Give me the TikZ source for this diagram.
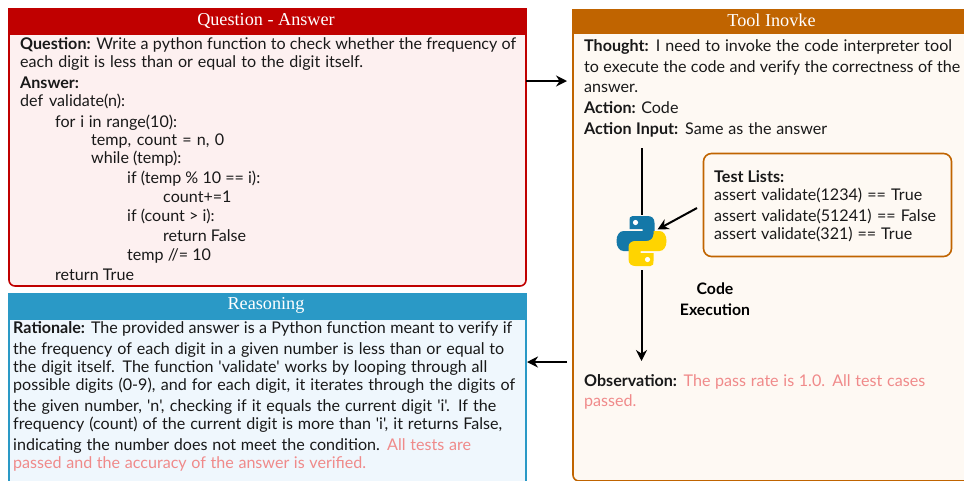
\documentclass[tikz,border=0pt]{standalone}
\usepackage{fontspec}
\newfontfamily\bodyfont{Lato}
\newfontfamily\headfont{Liberation Serif}
\definecolor{qared}{HTML}{C00000}
\definecolor{qafill}{HTML}{FDF0F0}
\definecolor{rsblue}{HTML}{2A99C6}
\definecolor{rsfill}{HTML}{EFF7FD}
\definecolor{tlorange}{HTML}{C06400}
\definecolor{tlfill}{HTML}{FEF9F3}
\definecolor{pinktext}{HTML}{F08A8A}
\definecolor{pyblue}{HTML}{1478A8}
\definecolor{pyyellow}{HTML}{FFD400}
\newcounter{tln}
\newcommand{\tl}[3]{\stepcounter{tln}\node[txt] (t\thetln) at (#1,#2) {#3};}
% text line set to end at a given x: the word spaces take up the difference
\newcommand{\tw}[4]{\stepcounter{tln}\node[txt] (t\thetln) at (#1,#2) {\hbox to \dimexpr#3pt-#1pt\relax{#4}};}
\newcommand{\snake}{(-9,-25) -- (6,-25) .. controls (10,-25) and (13,-23) .. (13,-18) -- (13,-6) .. controls (13,-2) and (10,0) .. (6,0) -- (-5,0) .. controls (-9,0) and (-12,3) .. (-12,7) -- (-12,10) -- (-18,10) .. controls (-22,10) and (-25,6) .. (-25,0) .. controls (-25,-6) and (-22,-10) .. (-18,-10) -- (1,-10) -- (1,-12) -- (-12,-12) -- (-12,-20) .. controls (-12,-23) and (-12,-25) .. (-9,-25) -- cycle}
\tikzset{
  txt/.style={anchor=base west,inner sep=0pt,font=\bodyfont\fontsize{16.1}{18}\selectfont,text=black!90},
  head/.style={inner sep=0pt,text=white,font=\headfont\fontsize{18.2}{20}\selectfont},
  arr/.style={draw=black,line width=2pt,-{Stealth[length=11pt,width=11pt]}},
}
\usetikzlibrary{arrows.meta}
\begin{document}
\begin{tikzpicture}[x=1pt,y=-1pt]
\useasboundingbox (0,0) rectangle (964,480);
\clip (0,0) rectangle (964,480);
% Question-Answer
\draw[qared,line width=1.6pt,fill=qafill,rounded corners=6pt] (9,20) -- (9,286) -- (526,286) -- (526,20) -- cycle;
\fill[qared] (8.2,8) rectangle (526.8,35);
\node[head] (qah) at (266,20.5) {Question - Answer};
% Reasoning
\draw[rsblue,line width=1.6pt,fill=rsfill] (9,300) rectangle (526,490);
\fill[rsblue] (8.2,293) rectangle (526.8,320);
\node[head] (rsh) at (266,305) {Reasoning};
% Tool
\draw[tlorange,line width=1.6pt,fill=tlfill,rounded corners=6pt] (573,20) rectangle (990,481);
\fill[tlorange] (572.2,9) rectangle (964,34);
\node[head] (tlh) at (771.5,20.5) {Tool Inovke};
% QA text
\tw{20}{49}{516}{\textbf{Question:} Write a python function to check whether the frequency of}
\tw{20}{67}{363}{each digit is less than or equal to the digit itself.}
\tl{20}{88}{\textbf{Answer:}}
\tw{20}{106}{125}{def validate(n):}
\tw{55}{127}{177}{for i in range(10):}
\tw{91}{145}{224}{temp, count = n, 0}
\tl{91}{163}{while (temp):}
\tl{127}{183}{if (temp \% 10 == i):}
\tl{163}{202}{count+=1}
\tl{127}{221}{if (count > i):}
\tl{163}{241}{return False}
\tl{127}{260}{temp //= 10}
\tl{55}{280}{return True}
% Reasoning text
\tw{13}{333}{512}{\textbf{Rationale:} The provided answer is a Python function meant to verify if}
\tw{13}{354}{504}{the frequency of each digit in a given number is less than or equal to}
\tw{13}{372}{487}{the digit itself. The function 'validate' works by looping through all}
\tw{13}{390}{515}{possible digits (0-9), and for each digit, it iterates through the digits of}
\tw{13}{411}{496}{the given number, 'n', checking if it equals the current digit 'i'. If the}
\tw{13}{429}{502}{frequency (count) of the current digit is more than 'i', it returns False,}
\tw{13}{450}{471}{indicating the number does not meet the condition. \textcolor{pinktext}{All tests are}}
\tw{13}{468}{366}{\textcolor{pinktext}{passed and the accuracy of the answer is verified.}}
% Tool text
\tw{584}{51}{952}{\textbf{Thought:} I need to invoke the code interpreter tool}
\tw{584}{72}{960}{to execute the code and verify the correctness of the}
\tl{584}{92}{answer.}
\tl{584}{113}{\textbf{Action:} Code}
\tw{584}{134}{827}{\textbf{Action Input:} Same as the answer}
\tw{584}{386}{925}{\textbf{Observation:} \textcolor{pinktext}{The pass rate is 1.0. All test cases}}
\tl{584}{406}{\textcolor{pinktext}{passed.}}
% Test list
\draw[tlorange,line width=1.6pt,fill=tlfill,rounded corners=8pt] (703.5,153.5) rectangle (951.5,256.5);
\tl{714}{182}{\textbf{Test Lists:}}
\tw{714}{200}{922}{assert validate(1234) == True}
\tw{714}{221}{936}{assert validate(51241) == False}
\tw{714}{239}{912}{assert validate(321) == True}
\node[font=\bodyfont\bfseries\fontsize{15.8}{21}\selectfont,align=center,inner sep=0pt,text=black] (code) at (715,299.5) {Code\\Execution};
% Python logo
\begin{scope}[shift={(641.5,241)}]
\fill[pyblue] \snake;
\fill[white] (-6,-18.5) circle (2.6);
\begin{scope}[rotate=180]
\fill[pyyellow] \snake;
\fill[white] (-6,-18.5) circle (2.6);
\end{scope}
\coordinate (pytop) at (0,-26);
\coordinate (pybot) at (0,29);
\coordinate (pyright) at (16,-11.5);
\end{scope}
% connectors
\coordinate (a1s) at (526,81);
\coordinate (a1e) at (567,81);
\coordinate (a2s) at (567,362);
\coordinate (a2e) at (527,362);
\coordinate (a3s) at (641.5,148);
\coordinate (a4e) at (641.5,361);
\coordinate (a5s) at (697,208);
\draw[arr] (a1s) -- (a1e);
\draw[arr] (a2s) -- (a2e);
\draw[black,line width=2pt] (a3s) -- (pytop);
\draw[arr] (pybot) -- (a4e);
\draw[arr] (a5s) -- (pyright);
\end{tikzpicture}
\end{document}
